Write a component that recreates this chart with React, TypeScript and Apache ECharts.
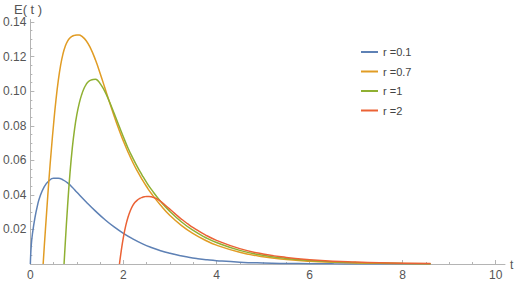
import React, { useEffect, useRef } from "react";
import * as echarts from "echarts";

const seriesNames = ["r =0.1", "r =0.7", "r =1", "r =2"];
const seriesColors = ["#5E81B5", "#E19C24", "#8FB032", "#EB6235"];

const curveR01: [number, number][] = [
  [0, 0], [0.02, 0.011], [0.05, 0.0185], [0.1, 0.027], [0.15, 0.0335], [0.2, 0.0385],
  [0.3, 0.0448], [0.4, 0.0482], [0.5, 0.0496], [0.6, 0.0496], [0.7, 0.0487], [0.8, 0.0469],
  [0.9, 0.0444], [1.0, 0.0415], [1.2, 0.0359], [1.4, 0.0306], [1.6, 0.02575], [1.8, 0.02145],
  [2.0, 0.01772], [2.2, 0.01453], [2.4, 0.01183], [2.6, 0.00957], [2.8, 0.0077], [3.0, 0.00617],
  [3.2, 0.00492], [3.4, 0.00391], [3.6, 0.0031], [3.8, 0.00245], [4.0, 0.00193], [4.5, 0.00105],
  [5.0, 0.00057], [5.5, 0.00031], [6.0, 0.00017], [6.5, 0.00009], [7.0, 0.00005], [7.5, 0.00003],
  [8.0, 0.000015], [8.6, 0.000007],
];

const curveR07: [number, number][] = [
  [0.275, 0], [0.3, 0.0105], [0.35, 0.03], [0.4, 0.049], [0.45, 0.0658], [0.5, 0.0812],
  [0.55, 0.0948], [0.6, 0.1061], [0.65, 0.115], [0.7, 0.1215], [0.75, 0.126], [0.8, 0.129],
  [0.85, 0.1308], [0.9, 0.1318], [0.95, 0.1323], [1.0, 0.1325], [1.05, 0.1325], [1.1, 0.1319],
  [1.2, 0.1292], [1.3, 0.1245], [1.4, 0.118], [1.5, 0.1103], [1.6, 0.102], [1.7, 0.0937],
  [1.8, 0.0857], [1.9, 0.0781], [2.0, 0.0711], [2.1, 0.0647], [2.2, 0.0589], [2.3, 0.0537],
  [2.4, 0.049], [2.5, 0.0447], [2.6, 0.0408], [2.8, 0.034], [3.0, 0.0281], [3.25, 0.0222],
  [3.5, 0.0176], [3.75, 0.0139], [4.0, 0.0109], [4.5, 0.0068], [5.0, 0.0042], [5.5, 0.0026],
  [6.0, 0.0016], [6.5, 0.001], [7.0, 0.00062], [7.5, 0.00039], [8.0, 0.00024], [8.6, 0.00014],
];

const curveR1: [number, number][] = [
  [0.724, 0], [0.75, 0.012], [0.8, 0.0335], [0.85, 0.052], [0.9, 0.0668], [0.95, 0.0781],
  [1.0, 0.0866], [1.05, 0.093], [1.1, 0.0978], [1.15, 0.1014], [1.2, 0.104], [1.25, 0.1056],
  [1.3, 0.1064], [1.35, 0.1068], [1.4, 0.1069], [1.45, 0.1061], [1.5, 0.1044], [1.6, 0.0999],
  [1.7, 0.0939], [1.8, 0.0872], [1.9, 0.0803], [2.0, 0.0735], [2.1, 0.067], [2.2, 0.0614],
  [2.3, 0.0562], [2.4, 0.0515], [2.5, 0.0471], [2.6, 0.0432], [2.8, 0.0362], [3.0, 0.0304],
  [3.25, 0.0243], [3.5, 0.0194], [3.75, 0.0155], [4.0, 0.0124], [4.5, 0.0079], [5.0, 0.005],
  [5.5, 0.0032], [6.0, 0.002], [6.5, 0.0013], [7.0, 0.00083], [7.5, 0.00053], [8.0, 0.00034],
  [8.6, 0.0002],
];

const curveR2: [number, number][] = [
  [1.915, 0], [1.95, 0.007], [2.0, 0.0155], [2.05, 0.0222], [2.1, 0.0272], [2.15, 0.031],
  [2.2, 0.0338], [2.25, 0.0357], [2.3, 0.037], [2.35, 0.0379], [2.4, 0.0385], [2.45, 0.0389],
  [2.5, 0.0391], [2.55, 0.0391], [2.6, 0.0389], [2.7, 0.038], [2.8, 0.0362], [2.9, 0.034],
  [3.0, 0.0317], [3.1, 0.0293], [3.2, 0.027], [3.3, 0.0249], [3.4, 0.0229], [3.5, 0.0211],
  [3.75, 0.017], [4.0, 0.0137], [4.5, 0.0089], [5.0, 0.0058], [5.5, 0.0038], [6.0, 0.0025],
  [6.5, 0.0016], [7.0, 0.0011], [7.5, 0.0007], [8.0, 0.00045], [8.6, 0.00028],
];

const curves = [curveR01, curveR07, curveR1, curveR2];

const xMajorTicks = [0, 2, 4, 6, 8, 10];
const xMinorTicks = [0.5, 1, 1.5, 2.5, 3, 3.5, 4.5, 5, 5.5, 6.5, 7, 7.5, 8.5, 9, 9.5];
const yMajorTicks = [0.02, 0.04, 0.06, 0.08, 0.1, 0.12, 0.14];
const yMinorTicks = [
  0.005, 0.01, 0.015, 0.025, 0.03, 0.035, 0.045, 0.05, 0.055, 0.065, 0.07, 0.075,
  0.085, 0.09, 0.095, 0.105, 0.11, 0.115, 0.125, 0.13, 0.135,
];

const FONT = "'Liberation Sans', Arial, sans-serif";
const AXIS_COLOR = "#b4b4b4";
const LABEL_COLOR = "#555555";

export default function App() {
  const ref = useRef<HTMLDivElement>(null);
  useEffect(() => {
    if (!ref.current) return;
    const chart = echarts.init(ref.current, undefined, { renderer: "svg" });
    const xMin = 0, xMax = 10.2, yMin = 0, yMax = 0.1415;
    chart.setOption({
      animation: false,
      backgroundColor: "#ffffff",
      grid: { left: 30, right: 15, top: 19.5, bottom: 19, containLabel: false },
      xAxis: [
        {
          type: "value", min: xMin, max: xMax, position: "bottom",
          axisLine: { show: true, lineStyle: { color: AXIS_COLOR, width: 1 } },
          axisTick: { show: true, inside: true, length: 4, customValues: xMajorTicks, lineStyle: { color: AXIS_COLOR } },
          axisLabel: { show: true, customValues: xMajorTicks, margin: 5, color: LABEL_COLOR, fontSize: 12, fontFamily: FONT },
          splitLine: { show: false },
        },
        {
          type: "value", min: xMin, max: xMax, position: "bottom", offset: 0,
          axisLine: { show: false },
          axisTick: { show: true, inside: true, length: 2, customValues: xMinorTicks, lineStyle: { color: AXIS_COLOR } },
          axisLabel: { show: false },
          splitLine: { show: false },
        },
      ],
      yAxis: [
        {
          type: "value", min: yMin, max: yMax, position: "left",
          axisLine: { show: true, lineStyle: { color: AXIS_COLOR, width: 1 } },
          axisTick: { show: true, inside: true, length: 4, customValues: yMajorTicks, lineStyle: { color: AXIS_COLOR } },
          axisLabel: {
            show: true, customValues: yMajorTicks, margin: 4, color: LABEL_COLOR, fontSize: 12, fontFamily: FONT,
            formatter: (v: number) => v.toFixed(2),
          },
          splitLine: { show: false },
        },
        {
          type: "value", min: yMin, max: yMax, position: "left", offset: 0,
          axisLine: { show: false },
          axisTick: { show: true, inside: true, length: 2, customValues: yMinorTicks, lineStyle: { color: AXIS_COLOR } },
          axisLabel: { show: false },
          splitLine: { show: false },
        },
      ],
      legend: {
        orient: "vertical", left: 356, top: 40, itemWidth: 17, itemHeight: 2, itemGap: 5.5,
        icon: "rect",
        textStyle: { color: "#444444", fontSize: 11, fontFamily: FONT, lineHeight: 14 },
        data: seriesNames,
      },
      graphic: [
        { type: "text", left: 14, top: 3, style: { text: "E( t )", fill: LABEL_COLOR, fontSize: 13, fontFamily: FONT } },
        { type: "text", left: 510, top: 259, style: { text: "t", fill: LABEL_COLOR, fontSize: 12, fontFamily: FONT } },
      ],
      series: curves.map((data, i) => ({
        name: seriesNames[i],
        type: "line",
        xAxisIndex: 0,
        yAxisIndex: 0,
        data,
        smooth: 0.5,
        symbol: "none",
        showSymbol: false,
        clip: true,
        lineStyle: { color: seriesColors[i], width: 1.5 },
        itemStyle: { color: seriesColors[i] },
      })),
    });
    return () => chart.dispose();
  }, []);
  return (
    <div
      ref={ref}
      style={{ position: "absolute", left: 0, top: 0, width: 520, height: 283, background: "#fff" }}
    />
  );
}
